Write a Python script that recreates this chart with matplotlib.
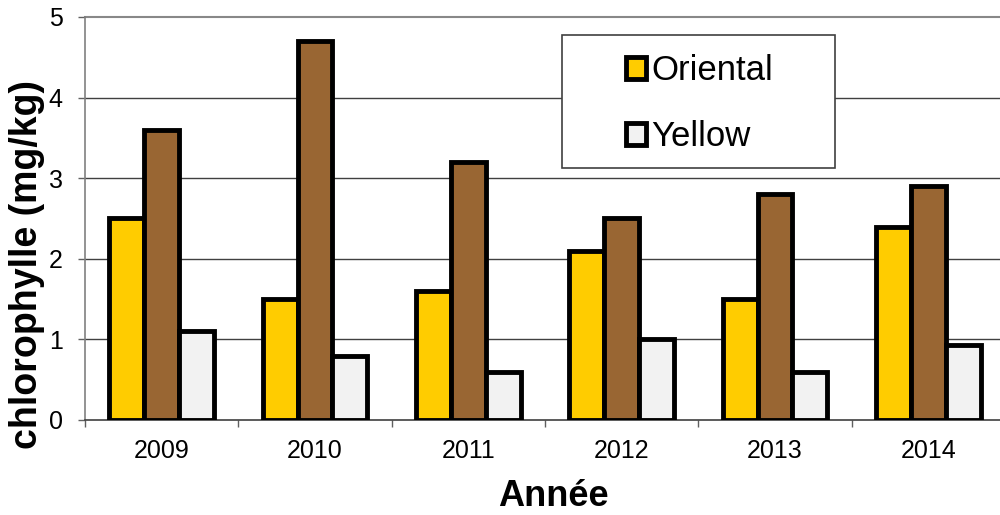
import numpy as np
import matplotlib
matplotlib.use("Agg")
import matplotlib.pyplot as plt
from matplotlib.patches import Rectangle

plt.rcParams['font.family'] = ['Liberation Sans', 'DejaVu Sans']

# --- data ---
annees = ['2009', '2010', '2011', '2012', '2013', '2014']
oriental = [2.5, 1.5, 1.6, 2.1, 1.5, 2.4]
brun = [3.6, 4.7, 3.2, 2.5, 2.8, 2.9]
yellow = [1.1, 0.8, 0.6, 1.0, 0.6, 0.93]

couleurs = ['#FFCC00', '#996633', '#F2F2F2']

fig = plt.figure(figsize=(10, 5.15), dpi=100)
ax = fig.add_axes([0.085, 0.1845, 0.92, 0.7825])

x = np.arange(len(annees))
w = 0.228
ax.bar(x - w, oriental, w, color=couleurs[0], edgecolor='black', linewidth=3.5,
       label='Oriental', zorder=3)
ax.bar(x, brun, w, color=couleurs[1], edgecolor='black', linewidth=3.5, zorder=3)
ax.bar(x + w, yellow, w, color=couleurs[2], edgecolor='black', linewidth=3.5,
       label='Yellow', zorder=3)

ax.set_xlim(-0.5, 5.5)
ax.set_ylim(0, 5)

# grid
for v in [1, 2, 3, 4]:
    ax.axhline(v, color='#404040', lw=1, zorder=1)
ax.axhline(5, color='#888888', lw=1.5, zorder=1, clip_on=False)

for s in ['top', 'right']:
    ax.spines[s].set_visible(False)
ax.spines['left'].set_color('#808080')
ax.spines['bottom'].set_color('#404040')
ax.spines['left'].set_linewidth(1.2)
ax.spines['bottom'].set_linewidth(1.2)

ax.set_yticks([0, 1, 2, 3, 4, 5])
ax.tick_params(axis='y', direction='out', length=5, width=1, color='#606060',
               labelsize=18, pad=11)

# ticks between groups, labels centred on groups
ax.set_xticks(np.arange(-0.5, 6, 1))
ax.set_xticklabels([])
ax.set_xticks(x, minor=True)
ax.set_xticklabels(annees, minor=True)
ax.tick_params(axis='x', which='major', direction='out', length=5, width=1,
               color='#606060')
ax.tick_params(axis='x', which='minor', length=0, labelsize=18, pad=14)

ax.set_ylabel('chlorophylle (mg/kg)', fontsize=27, fontweight='bold')
ax.yaxis.set_label_coords(-0.0435, 0.385)
ax.set_xlabel('Année', fontsize=26, fontweight='bold')
ax.xaxis.set_label_coords(0.509, -0.147)

# legend box
ax.add_patch(Rectangle((0.562, 0.6738), 0.273, 0.2583, transform=fig.transFigure,
                       facecolor='white', edgecolor='#404040', lw=1.2,
                       zorder=4, clip_on=False))
leg = ax.legend(loc='center', bbox_to_anchor=(0.6995, 0.799),
                bbox_transform=fig.transFigure, frameon=False, fontsize=25,
                handlelength=0.6, handleheight=0.6, handletextpad=0.15,
                labelspacing=0.95)
leg.set_zorder(5)

fig.savefig('out.png', dpi=100)
